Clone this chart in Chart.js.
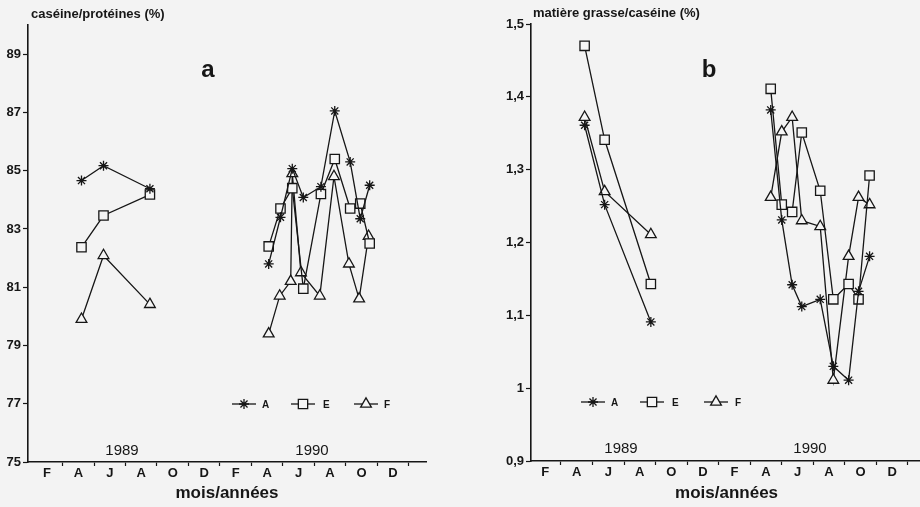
<!DOCTYPE html>
<html lang="fr">
<head>
<meta charset="utf-8">
<title>Caséine/protéines et matière grasse/caséine</title>
<script src="https://cdn.jsdelivr.net/npm/chart.js@4.4.1/dist/chart.umd.min.js"></script>
<style>
  html, body { margin: 0; padding: 0; background: #f3f3f3; }
  #cadre { position: relative; width: 920px; height: 507px; overflow: hidden; }
  .panneau { position: absolute; top: 0; height: 507px; }
  #pa { left: 0; width: 460px; }
  /* le panneau b déborde un peu : l'axe des x file jusqu'au bord */
  #pb { left: 460px; width: 470px; }
</style>
</head>
<body>
<div id="cadre">
  <div class="panneau" id="pa"><canvas id="grapheA"></canvas></div>
  <div class="panneau" id="pb"><canvas id="grapheB"></canvas></div>
</div>
<script>
// Mois comptés depuis janvier 1989 (0 = janv. 89, 12 = janv. 90)
const moisPos = [1, 3, 5, 7, 9, 11, 13, 15, 17, 19, 21, 23];
const moisLettres = ["F", "A", "J", "A", "O", "D", "F", "A", "J", "A", "O", "D"];

// --- a : caséine/protéines (%) ---
const ticksA = [75, 77, 79, 81, 83, 85, 87, 89];
const datesA89 = [3.2, 4.6, 7.55];
const datesA90 = [15.1, 15.85, 16.6, 17.3, 18.42, 19.3, 20.28, 20.92, 21.52];
const datesA90F = [15.1, 15.8, 16.5, 16.6, 17.15, 18.35, 19.25, 20.2, 20.85, 21.45];
const caseineA89 = [84.66, 85.17, 84.38];
const caseineA90 = [81.8, 83.4, 85.07, 84.08, 84.45, 87.05, 85.3, 83.35, 84.5];
const caseineE89 = [82.37, 83.46, 84.18];
const caseineE90 = [82.4, 83.7, 84.4, 80.95, 84.2, 85.4, 83.7, 83.87, 82.5];
const caseineF89 = [79.9, 82.09, 80.41];
const caseineF90 = [79.4, 80.7, 81.2, 84.9, 81.5, 80.7, 84.8, 81.8, 80.6, 82.75];

// --- b : matière grasse/caséine (%) ---
const ticksB = [0.9, 1.0, 1.1, 1.2, 1.3, 1.4, 1.5];
const datesB89 = [3.5, 4.77, 7.7];
const datesB90 = [15.3, 16.0, 16.66, 17.27, 18.44, 19.27, 20.24, 20.87, 21.57];
const mgA89 = [1.361, 1.252, 1.091];
const mgA90 = [1.382, 1.231, 1.142, 1.112, 1.122, 1.03, 1.011, 1.133, 1.181];
const mgE89 = [1.47, 1.341, 1.143];
const mgE90 = [1.411, 1.252, 1.242, 1.351, 1.271, 1.122, 1.143, 1.122, 1.292];
const mgF89 = [1.372, 1.27, 1.211];
const mgF90 = [1.262, 1.352, 1.372, 1.23, 1.222, 1.011, 1.181, 1.262, 1.252];

const POLICE = "'Liberation Sans', Arial, sans-serif";
const ENCRE = "#161616";
const FOND = "#f5f5f5";

// styles des trois séries (A astérisque, E carré, F triangle)
const STYLES = {
    A: { pointStyle: "star", radius: 5 },
    E: { pointStyle: "rect", radius: 6.6 },
    F: { pointStyle: "triangle", radius: 6.2 },
};

// 1989 et 1990 dans la même série, coupées par un point vide
function serie(d89, v89, d90, v90) {
    const pts = d89.map((x, i) => ({ x, y: v89[i] }));
    pts.push({ x: 11, y: null });
    d90.forEach((x, i) => pts.push({ x, y: v90[i] }));
    return pts;
}

function dataset(nom, pts) {
    const s = STYLES[nom];
    return {
        label: nom,
        data: pts,
        borderColor: ENCRE,
        borderWidth: 1.3,
        pointStyle: s.pointStyle,
        pointRadius: s.radius,
        pointHoverRadius: s.radius,
        pointBorderColor: ENCRE,
        pointBorderWidth: 1.3,
        pointBackgroundColor: FOND,
        tension: 0,
        spanGaps: false,
    };
}

function axeX(min, max, hauteur) {
    return {
        type: "linear",
        min,
        max,
        afterBuildTicks: (s) => {
            s.ticks = [];
            for (let i = 1; i <= 24; i++) s.ticks.push({ value: i });
        },
        afterFit: (s) => { s.height = hauteur; },
        ticks: {
            autoSkip: false,
            maxRotation: 0,
            padding: 0,
            color: ENCRE,
            font: { family: POLICE, size: 13, weight: "bold" },
            callback: (v) => {
                const k = moisPos.indexOf(v);
                return k < 0 ? "" : moisLettres[k];
            },
        },
        grid: {
            drawOnChartArea: false,
            tickLength: 4,
            tickWidth: 1.2,
            color: (c) => (c.tick && c.tick.value % 2 === 0 ? ENCRE : "rgba(0,0,0,0)"),
        },
        border: { display: true, color: ENCRE, width: 1.6 },
        title: {
            display: true,
            text: "mois/années",
            color: ENCRE,
            font: { family: POLICE, size: 17, weight: "bold" },
            padding: { top: 0, bottom: 3 },
        },
    };
}

function axeY(min, max, valeurs, largeur, format) {
    return {
        type: "linear",
        min,
        max,
        afterBuildTicks: (s) => { s.ticks = valeurs.map((v) => ({ value: v })); },
        afterFit: (s) => { s.width = largeur; },
        ticks: {
            padding: 2,
            color: ENCRE,
            font: { family: POLICE, size: 13, weight: "bold" },
            callback: format,
        },
        grid: { drawOnChartArea: false, tickLength: 5, tickWidth: 1.2, color: ENCRE },
        border: { display: true, color: ENCRE, width: 1.6 },
    };
}

// textes libres : titre d'axe, lettre du panneau, années
const textesLibres = {
    id: "textesLibres",
    afterDraw(chart, args, opts) {
        const ctx = chart.ctx;
        ctx.save();
        ctx.fillStyle = ENCRE;
        ctx.textBaseline = "middle";
        for (const t of opts.items || []) {
            ctx.font = t.font;
            ctx.textAlign = t.align || "center";
            ctx.fillText(t.text, t.x, t.y);
        }
        ctx.restore();
    },
};

// légende dessinée dans la zone du graphe
const legendeInterne = {
    id: "legendeInterne",
    afterDraw(chart, args, opts) {
        const ctx = chart.ctx;
        ctx.save();
        ctx.strokeStyle = ENCRE;
        ctx.lineWidth = 1.3;
        chart.data.datasets.forEach((ds, i) => {
            const p = opts.items[i];
            if (!p) return;
            ctx.beginPath();
            ctx.moveTo(p.x - 12, p.y);
            ctx.lineTo(p.x + 12, p.y);
            ctx.stroke();
            ctx.fillStyle = FOND;
            Chart.helpers.drawPoint(ctx, {
                pointStyle: ds.pointStyle,
                radius: ds.pointRadius,
                rotation: 0,
                borderWidth: 1.3,
            }, p.x, p.y);
            ctx.fillStyle = ENCRE;
            ctx.font = "bold 10px " + POLICE;
            ctx.textAlign = "left";
            ctx.textBaseline = "middle";
            ctx.fillText(ds.label, p.tx, p.y + 1);
        });
        ctx.restore();
    },
};

function graphe(id, cfg) {
    return new Chart(document.getElementById(id), {
        type: "line",
        data: { datasets: cfg.datasets },
        options: {
            responsive: true,
            maintainAspectRatio: false,
            animation: false,
            layout: { padding: cfg.padding },
            plugins: {
                legend: { display: false },
                tooltip: { enabled: false },
                textesLibres: { items: cfg.textes },
                legendeInterne: { items: cfg.legende },
            },
            scales: { x: cfg.x, y: cfg.y },
        },
        plugins: [textesLibres, legendeInterne],
    });
}

graphe("grapheA", {
    datasets: [
        dataset("A", serie(datesA89, caseineA89, datesA90, caseineA90)),
        dataset("E", serie(datesA89, caseineE89, datesA90, caseineE90)),
        dataset("F", serie(datesA89, caseineF89, datesA90F, caseineF90)),
    ],
    padding: { top: 25, right: 34, left: 0, bottom: 0 },
    x: axeX(-0.2, 25.1, 45),
    y: axeY(75, 90, ticksA, 28, (v) => String(v)),
    textes: [
        { text: "caséine/protéines (%)", x: 31, y: 14, align: "left", font: "bold 13px " + POLICE },
        { text: "a", x: 208, y: 70, font: "bold 24px " + POLICE },
        { text: "1989", x: 122, y: 451, font: "15px " + POLICE },
        { text: "1990", x: 312, y: 451, font: "15px " + POLICE },
    ],
    legende: [
        { x: 244, y: 404, tx: 262 },
        { x: 303, y: 404, tx: 323 },
        { x: 366, y: 404, tx: 384 },
    ],
});

graphe("grapheB", {
    datasets: [
        dataset("A", serie(datesB89, mgA89, datesB90, mgA90)),
        dataset("E", serie(datesB89, mgE89, datesB90, mgE90)),
        dataset("F", serie(datesB89, mgF89, datesB90, mgF90)),
    ],
    padding: { top: 24, right: 0, left: 0, bottom: 0 },
    x: axeX(0.1, 24.9, 46),
    y: axeY(0.9, 1.5, ticksB, 71, (v) => (v === 1 ? "1" : v.toFixed(1).replace(".", ","))),
    textes: [
        { text: "matière grasse/caséine (%)", x: 73, y: 13, align: "left", font: "bold 13px " + POLICE },
        { text: "b", x: 249, y: 70, font: "bold 24px " + POLICE },
        { text: "1989", x: 161, y: 449, font: "15px " + POLICE },
        { text: "1990", x: 350, y: 449, font: "15px " + POLICE },
    ],
    legende: [
        { x: 133, y: 402, tx: 151 },
        { x: 192, y: 402, tx: 212 },
        { x: 256, y: 402, tx: 275 },
    ],
});
</script>
</body>
</html>
